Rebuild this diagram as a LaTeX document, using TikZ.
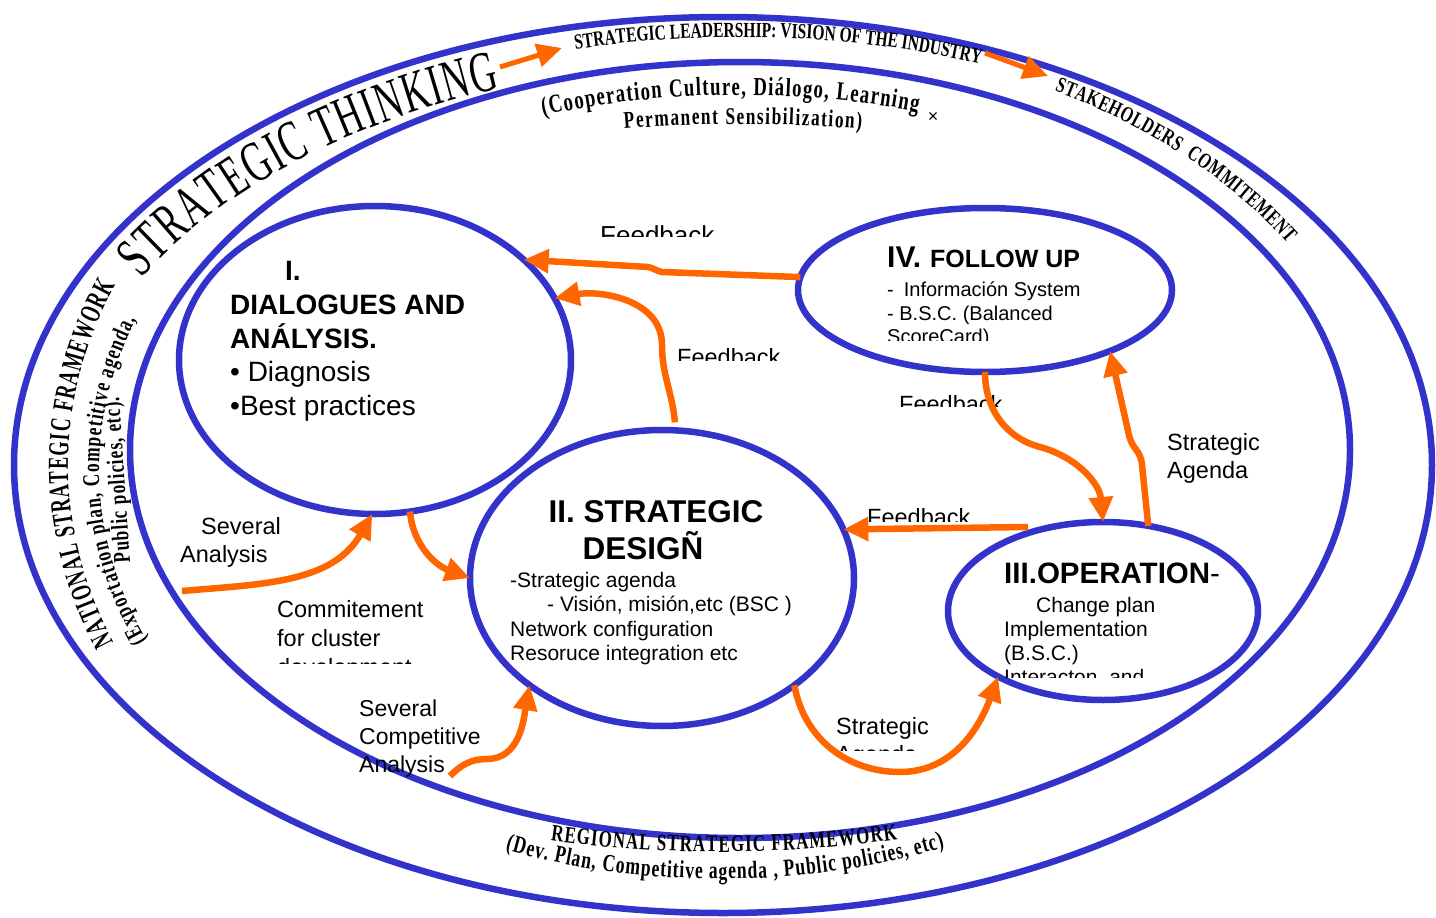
\documentclass[tikz,border=0pt]{standalone}
\usepackage{fontspec}
\setmainfont{Liberation Sans}
\newfontfamily\wordart[FakeStretch=0.72]{Liberation Serif}
\newfontfamily\narrowart[FakeStretch=0.63]{Liberation Serif}
\usetikzlibrary{arrows.meta,decorations.text,shapes.geometric}
\definecolor{ringblue}{RGB}{51,51,204}
\definecolor{arrorange}{RGB}{255,102,0}
\begin{document}
\begin{tikzpicture}[x=1pt,y=-1pt,
  ring/.style={draw=ringblue,line width=6.5pt},
  stage/.style={ellipse,draw=ringblue,line width=6.5pt,inner sep=0pt,outer sep=0pt},
  arr/.style={draw=arrorange,line width=6.5pt,-{Triangle[length=25pt,width=23pt]}},
  thin arr/.style={arr,line width=5pt},
  txt/.style={inner sep=0pt,anchor=north west,align=left},
  lbl/.style={txt,font=\fontsize{23.5}{28}\selectfont},
  arc text/.style={decorate,decoration={text along path,text align={fit to path},text={#1}}}
  ]
  \useasboundingbox (0,0) rectangle (1436,918);
  \draw[ring] (723,465) ellipse [x radius=709, y radius=448];
  \draw[ring] (740,450) ellipse [x radius=610, y radius=388];
  \node[stage,minimum width=392pt,minimum height=308pt] (dia) at (375,360) {};
  \node[stage,minimum width=384pt,minimum height=296pt] (des) at (662,578) {};
  \node[stage,minimum width=374pt,minimum height=164pt] (fol) at (985,290) {};
  \node[stage,minimum width=310pt,minimum height=178pt] (ope) at (1103,611) {};
  % stage texts
  \node[txt,font=\fontsize{28}{33.8}\selectfont] (diatxt) at (230,261)
    {\hspace*{55pt}\textbf{I.}\\\textbf{DIALOGUES AND}\\\textbf{ANÁLYSIS.}\\• Diagnosis\\•Best practices};
  \node[inner sep=0pt,anchor=north,align=center,font=\bfseries\fontsize{31.5}{37}\selectfont] (destitle) at (656,500)
    {II. STRATEGIC\\DESIGÑ\hspace*{26pt}};
  \node[txt,font=\fontsize{21}{24.5}\selectfont] (desbody) at (510,572)
    {-Strategic agenda\\\hspace*{37pt}- Visión, misión,etc (BSC )\\Network configuration\\Resoruce integration etc};
  \node[txt,anchor=base west,font=\bfseries] (foltitle) at (887,267)
    {{\fontsize{30}{30}\selectfont IV.}\hspace{9pt}{\fontsize{25}{25}\selectfont FOLLOW UP}};
  \begin{scope}
    \clip (880,275) rectangle (1160,340);
    \node[txt,font=\fontsize{20}{23.5}\selectfont] (folbody) at (887,282)
      {-\hspace{10pt}Información System\\- B.S.C. (Balanced\\ScoreCard)};
  \end{scope}
  \node[txt,anchor=base west,font=\fontsize{29.5}{30}\selectfont] (opetitle) at (1004,583) {\textbf{III.OPERATION}-};
  \begin{scope}
    \clip (995,590) rectangle (1230,677);
    \node[txt,font=\fontsize{21}{24}\selectfont] (opebody) at (1004,597)
      {\hspace*{32pt}Change plan\\Implementation\\(B.S.C.)\\Interacton\ \ and};
  \end{scope}
  % arrow labels
  \begin{scope}
    \clip (590,215) rectangle (730,236.5);
    \node[txt,font=\fontsize{26}{30}\selectfont] (fb1) at (600,225) {Feedback};
  \end{scope}
  \begin{scope}
    \clip (670,340) rectangle (790,360.5);
    \node[lbl] (fb2) at (677,348) {Feedback};
  \end{scope}
  \begin{scope}
    \clip (890,385) rectangle (1010,406);
    \node[lbl] (fb3) at (899,395) {Feedback};
  \end{scope}
  \begin{scope}
    \clip (860,500) rectangle (980,521);
    \node[lbl] (fb4) at (867,508) {Feedback};
  \end{scope}
  \node[lbl] (sag1) at (1167,433) {Strategic\\Agenda};
  \begin{scope}
    \clip (830,705) rectangle (940,750);
    \node[lbl] (sag2) at (836,717) {Strategic\\Agenda};
  \end{scope}
  \node[lbl] (sev) at (180,517) {\hspace*{21pt}Several\\Analysis};
  \begin{scope}
    \clip (270,590) rectangle (440,663);
    \node[lbl,font=\fontsize{23.5}{29}\selectfont] (com) at (277,600) {Commitement\\for cluster\\development};
  \end{scope}
  \begin{scope}
    \clip (350,690) rectangle (500,776);
    \node[lbl,font=\fontsize{23}{28}\selectfont] (sca) at (359,700) {Several\\Competitive\\Analysis};
  \end{scope}
  \node[font=\fontsize{18}{18}\selectfont] (cross) at (933,117) {×};
  % orange arrows
  \coordinate (fbstart) at (1028,527);
  \coordinate (sastart) at (182,591);
  \coordinate (scastart) at (450,776);
  \coordinate (st1) at (500,67);
  \coordinate (st2) at (562,48);
  \coordinate (sh1) at (985,53);
  \coordinate (sh2) at (1048,76);
  \draw[arr] (fol.176) -- (662,272) to[out=170,in=-10] (648,267) -- (dia.34);
  \draw[arr] ([yshift=8pt]des.85) to[out=95,in=-90] (662,345) to[out=90,in=10] (dia.19);
  \draw[arr] (fol.270) to[out=-90,in=165] (1040,447) to[out=-15,in=95] (ope.90);
  \draw[arr,rounded corners=8pt] (ope.62) -- (1141,455) -- (1131,444) -- (fol.-26);
  \draw[arr] (fbstart) -- (des.15);
  \draw[arr] (des.-39) to[out=-80,in=180] (900,772) to[out=0,in=-110] (ope.212);
  \draw[arr] (dia.-77) to[out=-85,in=160] (des.180);
  \draw[arr] (sastart) to[out=5,in=-120] (dia.-91);
  \draw[arr] (scastart) to[out=45,in=180] (487,759) to[out=0,in=-100] (des.219);
  \draw[thin arr] (st1) -- (st2);
  \draw[thin arr] (sh1) -- (sh2);
  % curved texts
  \path[arc text={|\narrowart\fontsize{58}{58}\selectfont|STRATEGIC THINKING}]
    plot[domain=152.4:110.8,samples=90] ({740+675*cos(\x)},{465-403*sin(\x)});
  \path[arc text={|\wordart\bfseries\fontsize{21.5}{21.5}\selectfont|STRATEGIC LEADERSHIP: VISION OF THE INDUSTRY}]
    plot[domain=103.8:69.6,samples=80] ({740+690*cos(\x)},{465-428*sin(\x)});
  \path[arc text={|\wordart\bfseries\fontsize{22}{22}\selectfont|STAKEHOLDERS {\ }COMMITEMENT}]
    plot[domain=60.5:31,samples=80] ({740+639*cos(\x)},{465-430*sin(\x)});
  \path[arc text={|\wordart\bfseries\fontsize{26}{26}\selectfont|(Cooperation Culture, Diálogo, Learning}]
    plot[domain=109.2:72.7,samples=80] ({740+599*cos(\x)},{465-370*sin(\x)});
  \path[arc text={|\wordart\bfseries\fontsize{24}{24}\selectfont|Permanent Sensibilization)}]
    plot[domain=99.5:80,samples=80] ({740+700*cos(\x)},{465-341*sin(\x)});
  \path[arc text={|\narrowart\bfseries\fontsize{29}{29}\selectfont|NATIONAL STRATEGIC FRAMEWORK}]
    plot[domain=201.2:158.4,samples=90] ({740+672*cos(\x)},{465-490*sin(\x)});
  \path[arc text={|\wordart\bfseries\fontsize{24}{24}\selectfont|(Exportation plan, Competitive agenda,}]
    plot[domain=202.2:160.5,samples=90] ({740+641*cos(\x)},{470-450*sin(\x)});
  \path[arc text={|\wordart\bfseries\fontsize{24}{24}\selectfont|Public policies, etc).}]
    (130,562) -- (119,397);
  \path[arc text={|\wordart\bfseries\fontsize{23.5}{23.5}\selectfont|REGIONAL STRATEGIC FRAMEWORK}]
    plot[domain=256:284.7,samples=80] ({720+700*cos(\x)},{464-388*sin(\x)});
  \path[arc text={|\wordart\bfseries\fontsize{24.5}{24.5}\selectfont|(Dev. Plan, Competitive agenda , Public policies, etc)}]
    plot[domain=247.7:293.4,samples=90] ({720+566*cos(\x)},{491-388*sin(\x)});
\end{tikzpicture}
\end{document}
